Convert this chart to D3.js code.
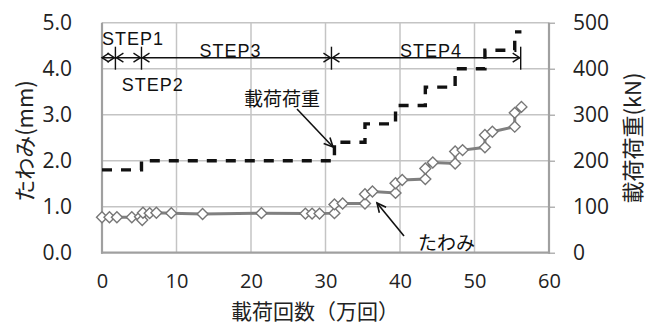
<!DOCTYPE html>
<html>
<head>
<meta charset="utf-8">
<script src="https://cdn.jsdelivr.net/npm/d3@7"></script>
<style>
  html, body { margin: 0; padding: 0; background: #fff; }
  svg { display: block; }
</style>
</head>
<body>
<svg id="chart" width="663" height="324"></svg>
<script>
// Deflection (mm) against number of load cycles (10^4 cycles)
const cycles = [0, 1.0, 2.0, 4.0, 5.1, 5.4, 5.5, 6.4, 7.3, 9.3, 13.5, 21.4, 27.3, 28.2, 29.2,
  31.2, 31.2, 32.3, 35.3, 35.3, 36.3, 39.4, 39.4, 40.3, 43.4, 43.4, 44.4,
  47.4, 47.4, 48.4, 51.4, 51.4, 52.4, 55.4, 55.4, 56.3];
const deflection = [0.77, 0.77, 0.77, 0.77, 0.78, 0.71, 0.87, 0.86, 0.87, 0.86, 0.84, 0.86, 0.85, 0.85, 0.85,
  0.86, 1.05, 1.07, 1.07, 1.27, 1.33, 1.30, 1.51, 1.58, 1.60, 1.83, 1.96,
  1.94, 2.20, 2.23, 2.29, 2.56, 2.63, 2.74, 3.04, 3.17];

// Applied load (kN): each value holds from its start cycle until the next one
const loadStart = [0, 5.3, 31.2, 35.3, 39.4, 43.4, 47.4, 51.4, 55.4, 56.3];
const loadKN = [180, 200, 240, 280, 320, 360, 400, 440, 480, 480];

// Loading stages along the top of the plot
const stepBounds = [0, 1.8, 5.3, 30.8, 56.2];
const stepNames = ["STEP1", "STEP2", "STEP3", "STEP4"];

const xTicks = [0, 10, 20, 30, 40, 50, 60];
const yLeftTicks = [0, 1, 2, 3, 4, 5];
const yRightTicks = [0, 100, 200, 300, 400, 500];

const svg = d3.select("#chart");
const plotL = 102, plotR = 549, plotT = 22.7, plotB = 252.7;

const x = d3.scaleLinear().domain([0, 60]).range([plotL, plotR]);
const yL = d3.scaleLinear().domain([0, 5]).range([plotB, plotT]);
const yR = d3.scaleLinear().domain([0, 500]).range([plotB, plotT]);

const numFont = "'Open Sans', 'Noto Sans', sans-serif";
const jpFont = "'Noto Sans CJK JP', sans-serif";

// grid
const grid = svg.append("g");
grid.selectAll("line.v").data(xTicks.slice(1, -1)).join("line")
  .attr("x1", d => x(d)).attr("x2", d => x(d))
  .attr("y1", plotT).attr("y2", plotB)
  .attr("stroke", "#c4c4c4").attr("stroke-width", 1.5);
grid.selectAll("line.h").data(yLeftTicks.slice(1)).join("line")
  .attr("x1", plotL).attr("x2", plotR)
  .attr("y1", d => yL(d)).attr("y2", d => yL(d))
  .attr("stroke", "#c4c4c4").attr("stroke-width", 1.5);

// axes frame
const frame = svg.append("g").attr("stroke", "#a0a0a0").attr("stroke-width", 2.2);
frame.append("line").attr("x1", plotL).attr("x2", plotL).attr("y1", plotT).attr("y2", plotB + 1);
frame.append("line").attr("x1", plotL - 1).attr("x2", plotR + 1).attr("y1", plotB).attr("y2", plotB);
frame.append("line").attr("x1", plotR).attr("x2", plotR).attr("y1", plotT).attr("y2", plotB + 1);

// axes via d3 axis generators
const xAxis = svg.append("g").attr("transform", `translate(0,${plotB})`)
  .call(d3.axisBottom(x).tickValues(xTicks).tickSize(0).tickPadding(21).tickFormat(d3.format("d")));
const yAxisL = svg.append("g").attr("transform", `translate(${plotL},0)`)
  .call(d3.axisLeft(yL).tickValues(yLeftTicks).tickSize(0).tickPadding(30).tickFormat(d3.format(".1f")));
const yAxisR = svg.append("g").attr("transform", `translate(${plotR},0)`)
  .call(d3.axisRight(yR).tickValues(yRightTicks).tickSize(6).tickPadding(18).tickFormat(d3.format("d")));
[xAxis, yAxisL, yAxisR].forEach(a => {
  a.select(".domain").remove();
  a.selectAll("text").attr("font-family", numFont).attr("font-size", 21).attr("fill", "#222");
  a.selectAll("line").attr("stroke", "#a0a0a0").attr("stroke-width", 1.2);
});
xAxis.selectAll("text").attr("font-size", 20);

// axis titles
svg.append("text").attr("x", 315).attr("y", 319).attr("text-anchor", "middle")
  .attr("font-family", jpFont).attr("font-size", 21).attr("fill", "#222").text("載荷回数（万回）");
svg.append("text").attr("transform", "translate(33,141) rotate(-90)").attr("text-anchor", "middle")
  .attr("font-family", jpFont).attr("font-size", 22).attr("fill", "#222").text("たわみ(mm)");
svg.append("text").attr("transform", "translate(641,138) rotate(-90)").attr("text-anchor", "middle")
  .attr("font-family", jpFont).attr("font-size", 22).attr("fill", "#222").text("載荷荷重(kN)");

// load (dashed step line)
const loadPts = loadStart.map((c, i) => [c, loadKN[i]]);
svg.append("path")
  .attr("d", d3.line().x(d => x(d[0])).y(d => yR(d[1])).curve(d3.curveStepAfter)(loadPts))
  .attr("fill", "none").attr("stroke", "#111").attr("stroke-width", 3.4)
  .attr("stroke-dasharray", "10,9");

// deflection line + diamond markers
const defPts = cycles.map((c, i) => [c, deflection[i]]);
svg.append("path")
  .attr("d", d3.line().x(d => x(d[0])).y(d => yL(d[1]))(defPts))
  .attr("fill", "none").attr("stroke", "#808080").attr("stroke-width", 3);
svg.append("g").selectAll("path").data(defPts).join("path")
  .attr("d", d3.symbol().type(d3.symbolDiamond2).size(76))
  .attr("transform", d => `translate(${x(d[0])},${yL(d[1])})`)
  .attr("fill", "#fff").attr("stroke", "#777").attr("stroke-width", 1.4);

// step annotations
const stepY = 57.7;
const ann = svg.append("g").attr("stroke", "#111").attr("stroke-width", 1.4).attr("fill", "none");
ann.append("line").attr("x1", x(stepBounds[0])).attr("x2", x(stepBounds[stepBounds.length - 1]))
  .attr("y1", stepY).attr("y2", stepY);
ann.selectAll("line.tick").data(stepBounds.slice(1)).join("line")
  .attr("x1", d => x(d)).attr("x2", d => x(d)).attr("y1", stepY - 11).attr("y2", stepY + 12);
const head = (tx, dir) => `M${tx + dir * 7},${stepY - 4.5}L${tx},${stepY}L${tx + dir * 7},${stepY + 4.5}`;
for (let i = 0; i < stepNames.length; i++) {
  ann.append("path").attr("d", head(x(stepBounds[i]) + (i === 0 ? 0 : 1), 1));
  ann.append("path").attr("d", head(x(stepBounds[i + 1]) - 1, -1));
}
const stepLabelPos = [[0, 45], [2.65, 90.5], [13.1, 57], [40, 57]];
svg.append("g").selectAll("text").data(stepNames).join("text")
  .attr("x", (d, i) => x(stepLabelPos[i][0]))
  .attr("y", (d, i) => stepLabelPos[i][1])
  .attr("font-family", "'Liberation Sans', Arial, sans-serif").attr("font-size", 18)
  .attr("letter-spacing", 1).attr("fill", "#111").text(d => d);

// callouts
svg.append("text").attr("x", 244).attr("y", 106).attr("font-family", jpFont).attr("font-size", 19)
  .attr("fill", "#111").text("載荷荷重");
svg.append("text").attr("x", 418).attr("y", 250).attr("font-family", jpFont).attr("font-size", 19)
  .attr("fill", "#111").text("たわみ");
const arrow = (x1, y1, x2, y2) => {
  const a = Math.atan2(y2 - y1, x2 - x1), L = 10, w = 0.45;
  const g = svg.append("g").attr("stroke", "#111").attr("stroke-width", 1.6).attr("fill", "none");
  g.append("line").attr("x1", x1).attr("y1", y1).attr("x2", x2).attr("y2", y2);
  g.append("path").attr("d",
    `M${x2 - L * Math.cos(a - w)},${y2 - L * Math.sin(a - w)}L${x2},${y2}L${x2 - L * Math.cos(a + w)},${y2 - L * Math.sin(a + w)}`);
};
arrow(297, 109, 333, 147);
arrow(404, 236, 377, 203);
</script>
</body>
</html>
